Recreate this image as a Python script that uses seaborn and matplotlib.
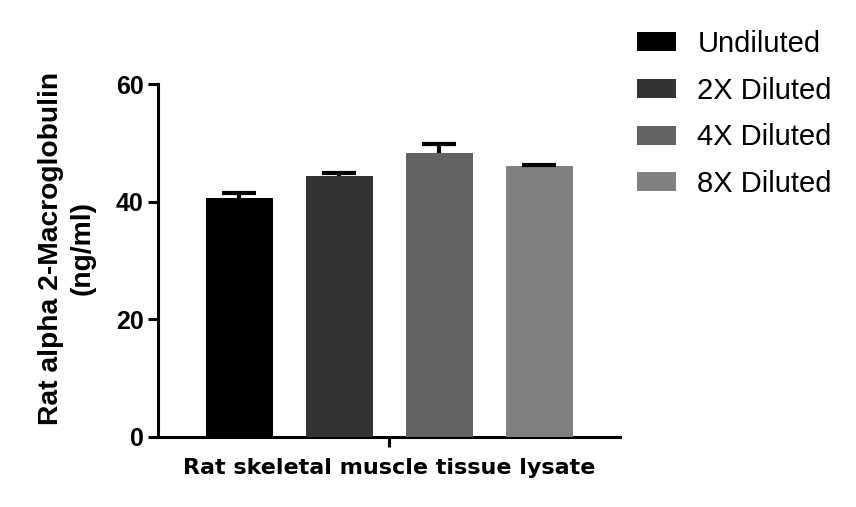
import matplotlib
matplotlib.use("Agg")
import matplotlib.pyplot as plt
import seaborn as sns
import pandas as pd

# Werte
probe = "Rat skeletal muscle tissue lysate"
verduennung = ["Undiluted", "2X Diluted", "4X Diluted", "8X Diluted"]
konzentration = [40.7, 44.4, 48.3, 46.1]
fehler = [0.8, 0.4, 1.5, 0.2]
farben = ["#000000", "#333333", "#636363", "#808080"]
y_ticks = [0, 20, 40, 60]

df = pd.DataFrame({"probe": probe, "verduennung": verduennung, "wert": konzentration})

sns.set_theme(style="ticks")
plt.rcParams["font.family"] = ["Liberation Sans", "DejaVu Sans"]
plt.rcParams["text.color"] = "black"
plt.rcParams["axes.labelcolor"] = "black"

fig = plt.figure(figsize=(8.56, 5.07), dpi=100)
ax = fig.add_axes([158 / 856, 70 / 507, 462 / 856, 353 / 507])

sns.barplot(data=df, x="probe", y="wert", hue="verduennung", hue_order=verduennung,
            palette=farben, saturation=1, width=1.0, gap=0.33, errorbar=None,
            linewidth=0, ax=ax, zorder=3)

# nur obere Fehlerbalken (ohne untere Kappe) wie im Original
for cont, err in zip(ax.containers, fehler):
    bar = cont[0]
    xm = bar.get_x() + bar.get_width() / 2
    halb = bar.get_width() / 4
    oben = bar.get_height() + err
    ax.vlines(xm, bar.get_height(), oben, color="black", linewidth=3, zorder=2)
    ax.hlines(oben, xm - halb, xm + halb, color="black", linewidth=3, zorder=4)

ax.set_ylim(0, 60)
ax.set_xlim(-0.5775, 0.5775)
ax.set_yticks(y_ticks)
ax.set_ylabel("Rat alpha 2-Macroglobulin\n(ng/ml)", fontsize=20.3, fontweight="bold", linespacing=1.3)
ax.yaxis.set_label_coords(-0.135, 0.535)
ax.set_xlabel("")

for lab in ax.get_yticklabels():
    lab.set_fontweight("bold")
    lab.set_fontsize(18)
for lab in ax.get_xticklabels():
    lab.set_fontweight("bold")
    lab.set_fontsize(16)
    lab.set_family(["DejaVu Sans"])

sns.despine(ax=ax)
for s in ["left", "bottom"]:
    ax.spines[s].set_linewidth(2.2)
    ax.spines[s].set_color("black")
ax.tick_params(axis="both", width=2.2, length=7, color="black", labelcolor="black")
ax.tick_params(axis="y", pad=3.5)
ax.tick_params(axis="x", pad=8)

leg = ax.legend(loc="upper left", bbox_to_anchor=(637 / 856, 1 - 30 / 507), bbox_transform=fig.transFigure,
                frameon=False, fontsize=21, handlelength=1.33, handleheight=0.63,
                handletextpad=0.74, labelspacing=0.64, borderpad=0, borderaxespad=0)
for t in leg.get_texts():
    t.set_color("black")

fig.savefig("out.png", dpi=100)
